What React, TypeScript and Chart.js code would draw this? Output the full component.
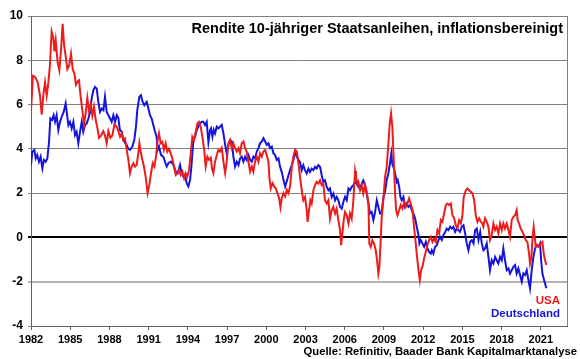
import { useEffect, useRef } from 'react';
import { Chart, registerables } from 'chart.js';

Chart.register(...registerables);

const FONT = '"Liberation Sans", Arial, Helvetica, sans-serif';

const titleText = 'Rendite 10-jähriger Staatsanleihen, inflationsbereinigt';
const sourceText = 'Quelle: Refinitiv, Baader Bank Kapitalmarktanalyse';
const seriesNames = ['USA', 'Deutschland'];

const xTickYears = [1982, 1985, 1988, 1991, 1994, 1997, 2000, 2003, 2006, 2009, 2012, 2015, 2018, 2021];
const yTickValues = [-4, -2, 0, 2, 4, 6, 8, 10];

// [year, real yield in %]
const usa: [number, number][] = [
  [1982.0, 5.75], [1982.15, 7.3], [1982.31, 7.25], [1982.51, 7.0], [1982.69, 6.4], [1982.82, 5.55], [1982.94, 6.4],
  [1983.07, 7.0], [1983.2, 6.4], [1983.33, 7.0], [1983.45, 7.8], [1983.58, 9.3], [1983.71, 9.0], [1983.79, 8.4], [1983.89, 8.9],
  [1984.04, 7.9], [1984.17, 7.55], [1984.3, 8.5], [1984.42, 9.65], [1984.53, 8.7], [1984.65, 8.2], [1984.78, 7.6], [1984.91, 7.75],
  [1985.06, 8.3], [1985.19, 7.6], [1985.32, 7.4], [1985.44, 6.9], [1985.57, 7.05], [1985.67, 7.1], [1985.8, 6.35], [1985.93, 5.75],
  [1986.06, 5.1], [1986.18, 5.6], [1986.31, 6.3], [1986.44, 5.7], [1986.57, 6.0], [1986.69, 5.5], [1986.82, 5.9], [1986.95, 5.3],
  [1987.08, 4.95], [1987.2, 4.5], [1987.36, 4.6], [1987.53, 4.8], [1987.66, 4.6], [1987.79, 4.25], [1987.92, 4.8],
  [1988.07, 4.5], [1988.22, 4.6], [1988.38, 5.1], [1988.56, 5.0], [1988.68, 4.8], [1988.81, 4.55], [1988.94, 4.7],
  [1989.06, 4.4], [1989.19, 4.47], [1989.32, 3.95], [1989.45, 3.5], [1989.57, 2.9], [1989.7, 3.2], [1989.83, 3.35], [1989.96, 3.2],
  [1990.08, 3.27], [1990.21, 3.8], [1990.29, 4.25], [1990.39, 3.87], [1990.52, 3.5], [1990.64, 3.2], [1990.77, 2.75], [1990.92, 2.0],
  [1991.05, 2.37], [1991.18, 2.9], [1991.31, 3.35], [1991.44, 3.2], [1991.56, 3.65], [1991.69, 4.4], [1991.79, 4.7], [1991.92, 4.25],
  [1992.05, 4.32], [1992.17, 3.95], [1992.3, 4.25], [1992.43, 3.87], [1992.56, 4.0], [1992.69, 3.8], [1992.81, 3.57], [1992.94, 3.2],
  [1993.07, 2.82], [1993.2, 2.9], [1993.32, 3.05], [1993.45, 2.82], [1993.58, 2.97], [1993.71, 2.67], [1993.83, 2.9], [1993.96, 2.75],
  [1994.09, 3.05], [1994.22, 3.8], [1994.34, 4.55], [1994.47, 4.4], [1994.6, 4.77], [1994.73, 5.15], [1994.85, 5.22], [1994.98, 5.0],
  [1995.11, 4.55], [1995.24, 4.0], [1995.36, 3.2], [1995.49, 3.65], [1995.62, 3.5], [1995.75, 3.6], [1995.85, 3.1], [1995.95, 2.9],
  [1996.08, 3.42], [1996.21, 3.72], [1996.34, 3.95], [1996.46, 3.88], [1996.59, 4.03], [1996.72, 3.42], [1996.85, 2.9], [1996.97, 3.42],
  [1997.1, 4.25], [1997.23, 4.4], [1997.36, 4.03], [1997.48, 4.25], [1997.61, 4.03], [1997.74, 3.88], [1997.87, 4.03], [1997.99, 3.8],
  [1998.12, 4.25], [1998.25, 4.33], [1998.38, 4.03], [1998.5, 3.88], [1998.63, 3.42], [1998.76, 2.97], [1998.89, 3.2],
  [1999.01, 2.97], [1999.14, 3.42], [1999.27, 3.65], [1999.4, 3.42], [1999.52, 3.8], [1999.65, 3.65], [1999.78, 3.88], [1999.91, 3.95],
  [2000.03, 3.72], [2000.16, 3.42], [2000.24, 2.67], [2000.34, 2.22], [2000.47, 2.45], [2000.6, 2.3], [2000.72, 2.22], [2000.85, 2.0], [2000.98, 1.77],
  [2001.08, 1.36], [2001.18, 1.77], [2001.31, 2.0], [2001.44, 1.85], [2001.57, 2.15], [2001.69, 2.0], [2001.82, 2.3], [2001.95, 3.2],
  [2002.07, 3.65], [2002.2, 3.95], [2002.33, 3.88], [2002.46, 3.35], [2002.58, 2.73], [2002.71, 2.13], [2002.83, 1.68], [2002.96, 1.83],
  [2003.09, 1.23], [2003.16, 0.7], [2003.27, 1.23], [2003.37, 1.68], [2003.47, 1.53], [2003.6, 2.13], [2003.73, 2.36], [2003.85, 2.51], [2003.98, 2.43],
  [2004.11, 2.58], [2004.24, 2.36], [2004.36, 2.43], [2004.49, 1.68], [2004.62, 1.53], [2004.75, 1.68], [2004.87, 0.85],
  [2005.0, 1.23], [2005.13, 1.38], [2005.26, 1.08], [2005.38, 1.3], [2005.51, 0.78], [2005.64, 0.33], [2005.72, -0.35], [2005.82, 0.17], [2005.92, 0.78],
  [2006.02, 1.15], [2006.15, 1.0], [2006.28, 0.63], [2006.4, 1.08], [2006.53, 0.85], [2006.66, 1.68], [2006.79, 3.0], [2006.86, 2.73], [2006.97, 2.43],
  [2007.04, 2.51], [2007.17, 2.13], [2007.3, 2.36], [2007.42, 1.98], [2007.55, 2.36], [2007.68, 2.06], [2007.81, 1.53], [2007.88, -0.28], [2007.99, -0.43],
  [2008.11, -0.13], [2008.24, -0.28], [2008.37, -0.58], [2008.47, -1.03], [2008.57, -1.63], [2008.65, -1.33], [2008.75, -0.13], [2008.83, 0.93], [2008.95, 1.68],
  [2009.08, 2.73], [2009.21, 3.19], [2009.34, 4.24], [2009.44, 5.14], [2009.54, 5.6], [2009.64, 5.0], [2009.74, 3.6], [2009.85, 1.98], [2009.93, 1.23],
  [2010.03, 1.0], [2010.16, 1.23], [2010.28, 1.46], [2010.41, 1.3], [2010.54, 1.6], [2010.67, 1.38], [2010.79, 1.53], [2010.92, 1.76],
  [2011.05, 1.53], [2011.18, 1.23], [2011.3, 0.48], [2011.43, -0.27], [2011.53, -0.88], [2011.64, -1.48], [2011.74, -1.93], [2011.84, -1.48], [2011.94, -1.33],
  [2012.07, -0.95], [2012.2, -0.65], [2012.32, -0.35], [2012.45, -0.12], [2012.58, 0.03], [2012.71, -0.2], [2012.83, -0.05], [2012.96, -0.2],
  [2013.09, 0.33], [2013.22, 0.18], [2013.35, 0.78], [2013.47, 0.7], [2013.6, 1.08], [2013.73, 1.46], [2013.86, 1.53], [2013.98, 1.46],
  [2014.11, 1.53], [2014.24, 1.0], [2014.37, 0.86], [2014.49, 0.55], [2014.62, 0.4], [2014.75, 0.78], [2014.88, 0.63],
  [2015.0, 1.0], [2015.1, 1.83], [2015.26, 2.13], [2015.39, 2.21], [2015.51, 2.13], [2015.64, 2.06], [2015.77, 1.98], [2015.9, 1.68],
  [2016.02, 1.0], [2016.15, 0.7], [2016.28, 0.86], [2016.41, 0.7], [2016.5, 0.65], [2016.6, 0.48], [2016.73, 0.86], [2016.86, 0.7], [2016.99, 0.48],
  [2017.11, -0.12], [2017.24, 0.1], [2017.37, 0.63], [2017.5, 0.33], [2017.62, 0.48], [2017.75, 0.18], [2017.88, 0.63],
  [2018.01, 0.33], [2018.13, 0.63], [2018.26, 0.4], [2018.39, 0.63], [2018.52, 0.33], [2018.64, 0.03], [2018.77, 0.78], [2018.9, 0.93],
  [2019.03, 1.0], [2019.15, 1.23], [2019.23, 0.78], [2019.33, 0.63], [2019.46, 0.4], [2019.59, 0.25], [2019.71, 0.1], [2019.84, -0.12], [2019.97, -0.2],
  [2020.1, -0.73], [2020.17, -1.18], [2020.28, -0.88], [2020.38, 0.1], [2020.45, 0.48], [2020.53, 0.03], [2020.61, -0.42], [2020.74, -0.35], [2020.86, -0.42], [2020.99, -0.27],
  [2021.12, -0.2], [2021.22, -0.73], [2021.32, -1.03], [2021.42, -1.25],
];

const deutschland: [number, number][] = [
  [1982.0, 3.27], [1982.1, 3.87], [1982.26, 3.95], [1982.36, 3.57], [1982.48, 3.72], [1982.61, 3.42], [1982.74, 3.65], [1982.87, 3.12], [1982.99, 3.5],
  [1983.12, 3.42], [1983.25, 3.57], [1983.38, 4.32], [1983.48, 5.37], [1983.61, 5.3], [1983.73, 5.52], [1983.84, 5.22], [1983.96, 5.52],
  [1984.09, 4.85], [1984.22, 5.22], [1984.35, 5.45], [1984.5, 5.67], [1984.65, 6.05], [1984.76, 5.52], [1984.86, 5.07], [1984.98, 5.22],
  [1985.11, 4.92], [1985.24, 5.22], [1985.37, 4.62], [1985.49, 4.77], [1985.62, 4.25], [1985.75, 4.77], [1985.88, 5.22],
  [1986.0, 4.77], [1986.13, 5.07], [1986.26, 5.15], [1986.39, 5.37], [1986.52, 5.67], [1986.64, 6.27], [1986.77, 6.65], [1986.9, 6.8],
  [1987.03, 6.72], [1987.15, 6.12], [1987.28, 5.67], [1987.41, 5.82], [1987.54, 5.75], [1987.66, 6.35], [1987.79, 5.67], [1987.92, 5.52],
  [1988.05, 5.37], [1988.17, 5.22], [1988.3, 5.52], [1988.43, 5.22], [1988.56, 5.52], [1988.68, 5.4], [1988.8, 4.85], [1988.94, 4.77],
  [1989.06, 4.4], [1989.32, 4.17], [1989.45, 4.0], [1989.57, 3.95], [1989.75, 4.1], [1989.9, 4.4],
  [1990.03, 5.0], [1990.13, 5.75], [1990.29, 6.35], [1990.41, 6.42], [1990.54, 6.12], [1990.67, 5.97], [1990.85, 6.12], [1990.98, 5.82],
  [1991.1, 5.52], [1991.23, 5.37], [1991.36, 5.07], [1991.49, 4.77], [1991.61, 4.55], [1991.69, 3.95], [1991.79, 4.1], [1991.95, 3.72],
  [1992.12, 3.65], [1992.25, 3.42], [1992.38, 3.2], [1992.51, 3.35], [1992.71, 3.42], [1992.89, 3.27],
  [1993.07, 2.97], [1993.22, 2.9], [1993.4, 3.27], [1993.53, 2.9], [1993.65, 2.75], [1993.78, 2.82], [1993.91, 2.45],
  [1994.04, 2.3], [1994.17, 2.6], [1994.29, 3.35], [1994.42, 4.4], [1994.55, 4.55], [1994.68, 4.85], [1994.8, 5.0], [1994.93, 5.15],
  [1995.06, 5.22], [1995.18, 5.22], [1995.31, 5.07], [1995.44, 5.22], [1995.57, 4.3], [1995.7, 4.85], [1995.77, 4.93], [1995.88, 4.55], [1995.98, 4.86],
  [1996.08, 4.7], [1996.21, 5.0], [1996.34, 4.93], [1996.46, 5.0], [1996.59, 5.08], [1996.72, 4.7], [1996.85, 4.18], [1996.97, 3.8],
  [1997.1, 4.18], [1997.23, 4.4], [1997.36, 4.33], [1997.48, 3.65], [1997.61, 3.2], [1997.74, 3.42], [1997.87, 3.27], [1997.99, 3.57],
  [1998.12, 3.65], [1998.25, 3.42], [1998.38, 3.65], [1998.5, 3.5], [1998.63, 3.72], [1998.76, 3.5], [1998.89, 3.42],
  [1999.01, 3.65], [1999.14, 3.57], [1999.27, 3.88], [1999.4, 4.03], [1999.52, 4.25], [1999.65, 4.33], [1999.78, 4.48], [1999.91, 4.33],
  [2000.03, 4.18], [2000.16, 4.25], [2000.29, 4.03], [2000.42, 4.1], [2000.54, 3.8], [2000.67, 3.72], [2000.8, 3.5], [2000.93, 3.57],
  [2001.05, 3.2], [2001.18, 2.95], [2001.31, 2.6], [2001.44, 2.3], [2001.57, 2.55], [2001.69, 2.8], [2001.82, 3.05], [2001.95, 3.27],
  [2002.07, 3.5], [2002.2, 3.88], [2002.33, 3.65], [2002.46, 3.5], [2002.58, 3.4], [2002.71, 3.04], [2002.83, 3.26], [2002.96, 3.04],
  [2003.09, 2.89], [2003.22, 3.11], [2003.34, 2.96], [2003.47, 3.11], [2003.6, 3.04], [2003.73, 3.19], [2003.85, 3.11], [2003.98, 3.26],
  [2004.11, 3.19], [2004.24, 2.81], [2004.36, 2.51], [2004.49, 2.58], [2004.62, 2.28], [2004.75, 2.13], [2004.87, 2.21],
  [2005.0, 1.83], [2005.13, 1.98], [2005.26, 1.68], [2005.38, 1.83], [2005.51, 1.68], [2005.64, 1.38], [2005.77, 1.3], [2005.89, 1.6],
  [2006.02, 1.83], [2006.15, 1.68], [2006.28, 2.21], [2006.4, 2.13], [2006.53, 2.28], [2006.66, 2.36], [2006.79, 2.51], [2006.91, 2.43],
  [2007.04, 2.28], [2007.17, 2.21], [2007.3, 2.43], [2007.42, 2.58], [2007.55, 2.36], [2007.68, 1.98], [2007.81, 1.53], [2007.93, 1.08],
  [2008.06, 1.15], [2008.19, 0.78], [2008.32, 1.15], [2008.45, 1.68], [2008.57, 1.38], [2008.7, 1.08], [2008.83, 1.15], [2008.96, 1.83],
  [2009.08, 2.06], [2009.21, 2.58], [2009.34, 2.9], [2009.47, 3.4], [2009.56, 3.8], [2009.64, 3.3], [2009.72, 3.19], [2009.85, 2.89], [2009.98, 2.51],
  [2010.05, 2.59], [2010.16, 2.29], [2010.26, 1.83], [2010.36, 1.68], [2010.49, 1.83], [2010.62, 1.38], [2010.74, 1.53], [2010.87, 1.38],
  [2011.0, 1.46], [2011.13, 1.23], [2011.25, 1.08], [2011.38, 0.86], [2011.51, 0.48], [2011.64, 0.1], [2011.71, -0.27], [2011.81, -0.12], [2011.94, -0.27],
  [2012.07, -0.42], [2012.2, -0.2], [2012.32, -0.5], [2012.45, -0.65], [2012.58, -0.73], [2012.66, -0.58], [2012.78, -0.73], [2012.91, -0.42],
  [2013.04, -0.35], [2013.17, -0.12], [2013.29, 0.03], [2013.42, -0.12], [2013.55, 0.1], [2013.68, 0.25], [2013.8, 0.4], [2013.93, 0.33],
  [2014.06, 0.48], [2014.19, 0.4], [2014.31, 0.48], [2014.44, 0.25], [2014.57, 0.4], [2014.7, 0.33], [2014.82, 0.25], [2014.95, 0.48],
  [2015.08, 0.55], [2015.21, 0.18], [2015.33, -0.27], [2015.46, -0.58], [2015.59, -0.2], [2015.72, -0.12], [2015.85, -0.27], [2015.97, 0.33],
  [2016.1, 0.4], [2016.23, -0.12], [2016.36, 0.25], [2016.48, -0.27], [2016.61, -0.58], [2016.73, -0.5], [2016.86, -0.27], [2016.99, -0.88],
  [2017.11, -1.48], [2017.24, -1.03], [2017.37, -1.18], [2017.5, -0.88], [2017.62, -1.03], [2017.75, -1.18], [2017.88, -0.88],
  [2018.01, -1.03], [2018.13, -0.5], [2018.26, -1.03], [2018.39, -1.48], [2018.52, -1.4], [2018.64, -1.63], [2018.77, -1.48], [2018.9, -1.33],
  [2019.03, -1.25], [2019.15, -1.63], [2019.28, -1.4], [2019.41, -1.7], [2019.54, -2.0], [2019.66, -1.63], [2019.79, -1.7], [2019.92, -1.48],
  [2020.05, -1.93], [2020.17, -2.3], [2020.3, -1.48], [2020.43, -0.88], [2020.56, -0.5], [2020.68, -0.35], [2020.81, -0.42], [2020.94, -0.27],
  [2021.02, -1.03], [2021.12, -1.63], [2021.25, -1.93], [2021.42, -2.3],
];

const RED = '#ec1c1c';
const BLUE = '#1414dc';

export default function App() {
  const canvasRef = useRef<HTMLCanvasElement | null>(null);

  useEffect(() => {
    const canvas = canvasRef.current;
    if (!canvas) return;

    const overlay = {
      id: 'overlayTexts',
      afterDraw(chart: any) {
        const { ctx, chartArea } = chart;
        ctx.save();
        // right frame line
        ctx.strokeStyle = '#7f7f7f';
        ctx.lineWidth = 1;
        ctx.beginPath();
        ctx.moveTo(Math.round(chartArea.right) + 0.5, chartArea.top);
        ctx.lineTo(Math.round(chartArea.right) + 0.5, chartArea.bottom);
        ctx.stroke();

        ctx.textAlign = 'right';
        ctx.textBaseline = 'alphabetic';
        ctx.fillStyle = '#000';
        ctx.font = `bold 14.5px ${FONT}`;
        ctx.fillText(titleText, 563, 33);

        ctx.font = `bold 11.5px ${FONT}`;
        ctx.fillStyle = RED;
        ctx.fillText(seriesNames[0], 560, 304);
        ctx.fillStyle = BLUE;
        ctx.fillText(seriesNames[1], 560, 317);

        ctx.fillStyle = '#000';
        ctx.font = `bold 11.3px ${FONT}`;
        ctx.fillText(sourceText, 577, 355);
        ctx.restore();
      },
    };

    const gridColor = (v: number) => (v === 0 ? '#000000' : v === -2 ? '#b4b4b4' : '#808080');
    const gridWidth = (v: number) => (v === 0 ? 2 : v === -2 ? 2 : 1);

    const chart = new Chart(canvas, {
      type: 'line',
      data: {
        datasets: [
          {
            label: seriesNames[0],
            data: usa.map(([x, y]) => ({ x, y })),
            borderColor: RED,
            borderWidth: 2,
            pointRadius: 0,
            tension: 0,
            fill: false,
          },
          {
            label: seriesNames[1],
            data: deutschland.map(([x, y]) => ({ x, y })),
            borderColor: BLUE,
            borderWidth: 2,
            pointRadius: 0,
            tension: 0,
            fill: false,
          },
        ],
      },
      options: {
        responsive: false,
        animation: false,
        devicePixelRatio: 1,
        layout: { padding: { top: 16, right: 13, bottom: 0, left: 0 } },
        plugins: {
          legend: { display: false },
          tooltip: { enabled: false },
          title: { display: false },
        },
        scales: {
          x: {
            type: 'linear',
            min: 1982,
            max: 2023,
            afterBuildTicks: (scale: any) => {
              scale.ticks = xTickYears.map((v) => ({ value: v }));
            },
            afterFit: (scale: any) => {
              scale.height = 33;
            },
            ticks: {
              autoSkip: false,
              maxRotation: 0,
              minRotation: 0,
              padding: 3,
              color: '#000',
              font: { family: FONT, size: 11, weight: 'bold' },
              callback: (v: any) => String(v),
            },
            grid: {
              drawOnChartArea: false,
              drawTicks: true,
              tickLength: 4,
              color: '#606060',
            },
            border: { display: true, color: '#606060', width: 1 },
          },
          y: {
            type: 'linear',
            min: -4,
            max: 10,
            afterBuildTicks: (scale: any) => {
              scale.ticks = yTickValues.map((v) => ({ value: v }));
            },
            afterFit: (scale: any) => {
              scale.width = 31;
            },
            ticks: {
              padding: 5,
              color: '#000',
              font: { family: FONT, size: 12, weight: 'bold' },
              callback: (v: any) => String(v),
            },
            grid: {
              drawTicks: true,
              tickLength: 3,
              color: (c: any) => gridColor(c.tick ? c.tick.value : 1),
              lineWidth: (c: any) => gridWidth(c.tick ? c.tick.value : 1),
            },
            border: { display: true, color: '#606060', width: 1 },
          },
        },
      },
      plugins: [overlay],
    } as any);

    return () => {
      chart.destroy();
    };
  }, []);

  return (
    <div style={{ position: 'fixed', left: 0, top: 0, width: 580, height: 359, background: '#ffffff' }}>
      <canvas ref={canvasRef} width={580} height={359} style={{ display: 'block', width: 580, height: 359 }} />
    </div>
  );
}
